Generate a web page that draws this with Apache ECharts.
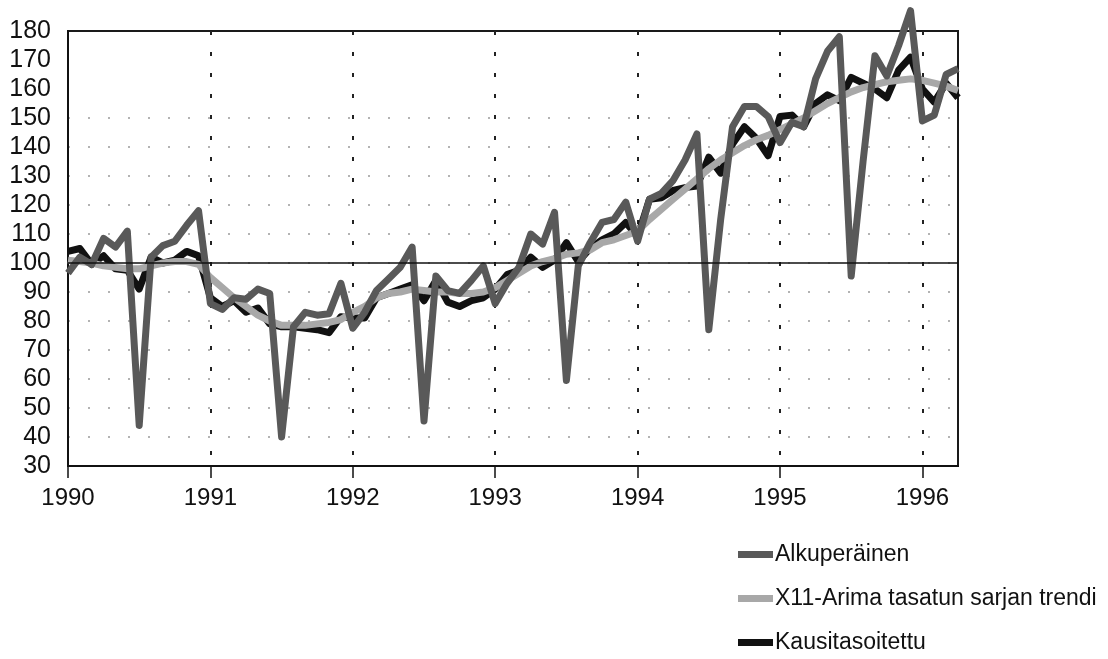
<!DOCTYPE html>
<html>
<head>
<meta charset="utf-8">
<script src="https://cdn.jsdelivr.net/npm/echarts@6/dist/echarts.min.js"></script>
<style>
	html, body { margin: 0; padding: 0; background: #fff; }
	#chart { width: 1108px; height: 659px; }
</style>
</head>
<body>
<div id="chart"></div>
<script>
// 年份刻度（每12个月一个）
const years = ['1990', '1991', '1992', '1993', '1994', '1995', '1996'];

// 月度数据，1990年1月 … 1996年4月
const alkuperainen = [
	96.5, 102, 99.5, 108.5, 105.5, 111, 44, 102, 106, 107.5, 113, 118,
	86, 84, 88, 87.5, 91, 89.5, 40, 78, 83, 82, 82.5, 93,
	77.5, 83, 90.5, 94.5, 98.5, 105.5, 45.5, 95.5, 90.5, 89.5, 94, 99,
	86, 93, 98.5, 110, 106.5, 117.5, 59.5, 99, 107, 114, 115, 121,
	107.5, 122, 124, 128.5, 135.5, 144.5, 77, 115, 147, 154, 154, 150.5,
	141.5, 148.5, 147, 163.5, 173, 178, 95.5, 135, 171.5, 164.5, 175, 187,
	149, 151, 165, 167
];
const trendi = [
	101, 100.5, 100, 99, 98.5, 98, 98, 99, 100, 100.5, 100.5, 99.5,
	95, 91.5, 88, 85, 82, 80, 78.5, 78.5, 78.5, 79, 79.5, 80.5,
	83, 85, 88, 89.5, 90, 91, 90.5, 90, 90, 89.5, 89.5, 90,
	91.5, 94, 96.5, 99, 100.5, 101.5, 103, 103.5, 104.5, 107, 108, 109.5,
	111, 115, 118.5, 122, 125.5, 129, 132.5, 135.5, 138, 140.5, 142.5, 144,
	146, 148, 150, 152.5, 155, 157, 159, 160.5, 161.5, 162.5, 163, 163.5,
	163, 162, 161, 159.5
];
const kausitasoitettu = [
	104, 105, 99.5, 102.5, 98, 97.5, 91, 102, 100, 101, 104, 102.5,
	88, 85, 87, 83, 84.5, 79, 78, 78, 77.5, 77, 76, 81.5,
	81, 81, 88, 89.5, 91, 92.5, 87, 94, 86.5, 85, 87, 88,
	91, 96, 97.5, 102, 98.5, 101, 107, 100.5, 105, 108, 110, 114,
	109, 122, 122.5, 125, 126, 126.5, 136.5, 131, 141, 147, 143, 137,
	150.5, 151, 147, 155, 158, 156, 164, 162, 160, 157, 166.5, 171,
	160, 155.5, 162, 157
];

const FONT = "'Liberation Sans', Arial, sans-serif";

/** 把月度数组变成 [月序号, 值] */
function toPoints(arr) {
	return arr.map((v, i) => [i, v]);
}

const yearTicks = years.map((y, i) => i * 12);

const chart = echarts.init(document.getElementById('chart'));

// 横向虚点网格线：只在40…150之间可见
const gridColors = [];
for (let v = 30; v <= 180; v += 10) {
	gridColors.push(v >= 40 && v <= 150 ? '#9a9a9a' : 'rgba(0,0,0,0)');
}

const option = {
	backgroundColor: '#fff',
	animation: false,
	grid: {
		left: 68, top: 31, right: 150, bottom: 193,
		show: true, borderColor: '#1a1a1a', borderWidth: 2
	},
	xAxis: {
		type: 'value',
		min: 0, max: 75, interval: 12,
		axisLine: { lineStyle: { color: '#111', width: 2 } },
		axisTick: { show: true, length: 12, inside: false, customValues: yearTicks,
			lineStyle: { color: '#111', width: 1.5 } },
		axisLabel: {
			customValues: yearTicks,
			formatter: v => years[v / 12] || '',
			color: '#111', fontSize: 24, fontFamily: FONT, margin: 20
		},
		splitLine: {
			show: true,
			lineStyle: { color: '#222', width: 2, type: [4, 17] }
		}
	},
	yAxis: {
		type: 'value',
		min: 30, max: 180, interval: 10,
		axisLine: { show: true, lineStyle: { color: '#111', width: 2 } },
		axisTick: { show: false },
		axisLabel: { color: '#111', fontSize: 25, fontFamily: FONT, margin: 17 },
		splitLine: {
			show: true,
			lineStyle: { color: gridColors, width: 1.5, type: [2, 18] }
		}
	},
	legend: {
		orient: 'vertical',
		left: 733, top: 538,
		icon: 'rect', itemWidth: 35, itemHeight: 7, itemGap: 21,
		textStyle: { color: '#111', fontSize: 23, fontFamily: FONT, padding: [0, 0, 0, -3] },
		data: ['Alkuperäinen', 'X11-Arima tasatun sarjan trendi', 'Kausitasoitettu']
	},
	series: [
		{
			name: 'Kausitasoitettu',
			type: 'line',
			data: toPoints(kausitasoitettu),
			symbol: 'none', clip: false,
			itemStyle: { color: '#111' },
			lineStyle: { color: '#111', width: 7, join: 'round' },
			markLine: {
				silent: true, symbol: 'none', label: { show: false },
				lineStyle: { color: '#111', width: 1.5, type: 'solid' },
				data: [{ yAxis: 100 }]
			}
		},
		{
			name: 'X11-Arima tasatun sarjan trendi',
			type: 'line',
			data: toPoints(trendi),
			symbol: 'none', clip: false,
			itemStyle: { color: '#a8a8a8' },
			lineStyle: { color: '#a8a8a8', width: 7, join: 'round' }
		},
		{
			name: 'Alkuperäinen',
			type: 'line',
			data: toPoints(alkuperainen),
			symbol: 'none', clip: false,
			itemStyle: { color: '#595959' },
			lineStyle: { color: '#595959', width: 7, join: 'round' }
		}
	]
};

option && chart.setOption(option);
</script>
</body>
</html>
